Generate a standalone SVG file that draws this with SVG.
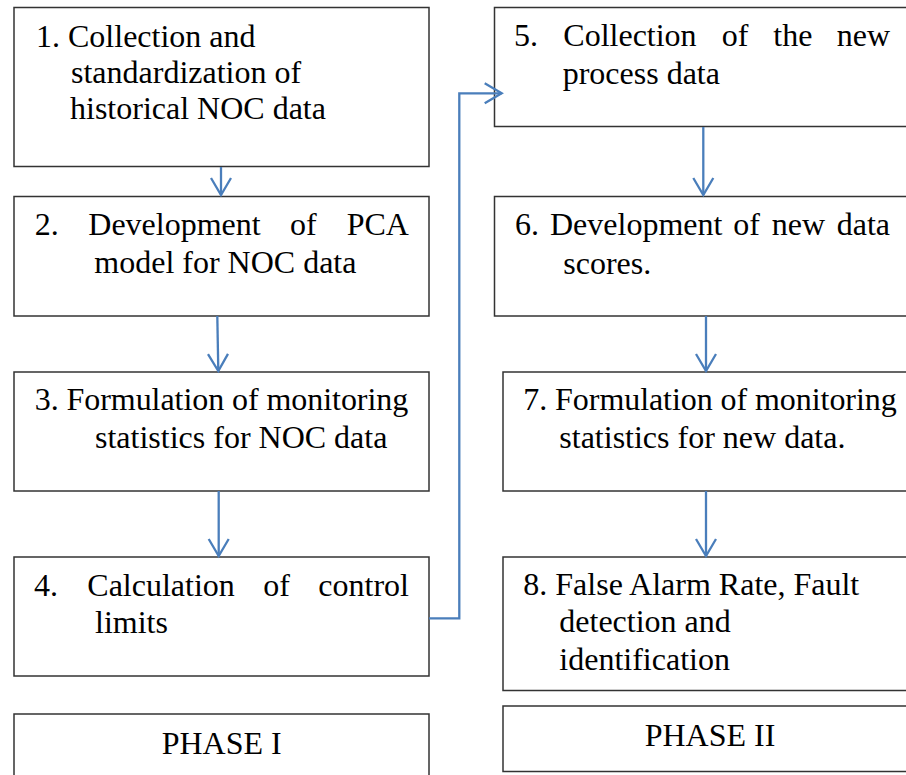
<svg xmlns="http://www.w3.org/2000/svg" width="906" height="775" viewBox="0 0 906 775">
<style>
.box{fill:#fff;stroke:#333;stroke-width:1.5}
.t{font-family:"Liberation Serif","Times New Roman",serif;font-size:32px;fill:#000}
.c{fill:none;stroke:#4a7ebb;stroke-width:2.3}
</style>
<defs>
<marker id="ah" viewBox="-20 -12 22 24" markerWidth="22" markerHeight="24" refX="0" refY="0" orient="auto" markerUnits="userSpaceOnUse" overflow="visible">
<path d="M-17,-10 L0,0 L-17,10" fill="none" stroke="#4a7ebb" stroke-width="2.3"/>
</marker>
</defs>
<rect width="906" height="775" fill="#fff"/>
<g id="n1"><rect class="box" x="14" y="7.5" width="415" height="159"/>
<text class="t" x="36" y="47">1. Collection and</text>
<text class="t" x="71" y="83">standardization of</text>
<text class="t" x="70" y="119">historical NOC data</text></g>
<g id="n2"><rect class="box" x="14" y="196.5" width="415" height="119.5"/>
<text class="t" y="235"><tspan x="34.7">2.</tspan><tspan x="88.3">Development</tspan><tspan x="290">of</tspan><tspan x="346.7">PCA</tspan></text>
<text class="t" x="94.3" y="273">model for NOC data</text></g>
<g id="n3"><rect class="box" x="14" y="372" width="415" height="119"/>
<text class="t" x="34.7" y="410" textLength="373.5" lengthAdjust="spacing">3. Formulation of monitoring</text>
<text class="t" x="95" y="448">statistics for NOC data</text></g>
<g id="n4"><rect class="box" x="14" y="557" width="415" height="119"/>
<text class="t" y="596"><tspan x="34">4.</tspan><tspan x="87.3">Calculation</tspan><tspan x="263.3">of</tspan><tspan x="318.3">control</tspan></text>
<text class="t" x="95" y="633">limits</text></g>
<g id="p1"><rect class="box" x="14" y="714" width="415" height="80"/>
<text class="t" x="221.7" y="754" text-anchor="middle">PHASE I</text></g>
<g id="n5"><rect class="box" x="494.5" y="7.5" width="420" height="119"/>
<text class="t" y="45.5"><tspan x="514">5.</tspan><tspan x="563.3">Collection</tspan><tspan x="721.7">of</tspan><tspan x="773.3">the</tspan><tspan x="836.7">new</tspan></text>
<text class="t" x="562.7" y="83.5">process data</text></g>
<g id="n6"><rect class="box" x="494.5" y="196.5" width="420" height="119.5"/>
<text class="t" y="235"><tspan x="515">6.</tspan><tspan x="550">Development</tspan><tspan x="733.3">of</tspan><tspan x="771.7">new</tspan><tspan x="836.7">data</tspan></text>
<text class="t" x="563.3" y="274">scores.</text></g>
<g id="n7"><rect class="box" x="503" y="372" width="420" height="119"/>
<text class="t" x="523.3" y="410" textLength="373.4" lengthAdjust="spacing">7. Formulation of monitoring</text>
<text class="t" x="559.3" y="448">statistics for new data.</text></g>
<g id="n8"><rect class="box" x="503" y="557" width="420" height="133.5"/>
<text class="t" x="523.3" y="595">8. False Alarm Rate, Fault</text>
<text class="t" x="559.3" y="632">detection and</text>
<text class="t" x="559.3" y="670">identification</text></g>
<g id="p2"><rect class="box" x="503" y="706" width="420" height="65.5"/>
<text class="t" x="710" y="746" text-anchor="middle">PHASE II</text></g>
<g id="connectors">
<path class="c" d="M221,167 L221,195" marker-end="url(#ah)"/>
<path class="c" d="M217.3,316 L218.3,371" marker-end="url(#ah)"/>
<path class="c" d="M218.7,491 L218.7,556" marker-end="url(#ah)"/>
<path class="c" d="M429,618.3 L459.3,618.3 L459.3,93.3 L501.7,93.3" marker-end="url(#ah)"/>
<path class="c" d="M703.3,127 L703.3,195" marker-end="url(#ah)"/>
<path class="c" d="M706,316 L706,371" marker-end="url(#ah)"/>
<path class="c" d="M706,491 L706,556" marker-end="url(#ah)"/>
</g>
</svg>
